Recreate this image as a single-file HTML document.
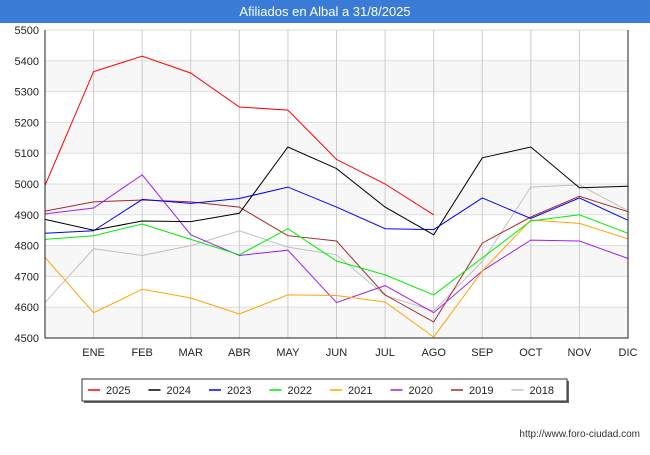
<!DOCTYPE html>
<html><head><meta charset="utf-8"><style>
body{margin:0;width:650px;height:450px;background:#fff;font-family:"Liberation Sans",sans-serif;overflow:hidden}
</style></head><body>
<svg width="650" height="450" xmlns="http://www.w3.org/2000/svg">
<rect x="0" y="0" width="650" height="23" fill="#3a7bd8"/>
<text x="325" y="16" text-anchor="middle" fill="#fff" font-size="13">Afiliados en Albal a 31/8/2025</text>
<g id="grid"></g><g id="series"></g><g id="axes"></g>
<rect x="84" y="381" width="485" height="22" fill="#666"/>
<rect x="82" y="379" width="485" height="22" fill="#fff" stroke="#333"/>
<g id="legend"></g>
<text x="640" y="437" text-anchor="end" font-size="10" fill="#333">http://www.foro-ciudad.com</text>
</svg>
<script>
const months=["","ENE","FEB","MAR","ABR","MAY","JUN","JUL","AGO","SEP","OCT","NOV","DIC"];
const yTicks=[4500,4600,4700,4800,4900,5000,5100,5200,5300,5400,5500];
const names=["2025","2024","2023","2022","2021","2020","2019","2018"];
const colors=["#ff0000","#000000","#0000ff","#00ee00","#ffa500","#a020f0","#a52a2a","#c0c0c0"];
const s2025=[4995,5365,5415,5360,5250,5240,5080,5000,4900];
const s2024=[4885,4850,4880,4878,4905,5120,5050,4925,4835,5085,5120,4988,4993];
const s2023=[4840,4848,4950,4937,4953,4990,4925,4855,4852,4955,4888,4955,4882];
const s2022=[4820,4832,4870,4820,4770,4855,4750,4705,4640,4760,4880,4900,4840];
const s2021=[4762,4582,4658,4630,4578,4640,4638,4617,4503,4718,4883,4872,4822];
const s2020=[4903,4922,5030,4835,4768,4785,4615,4670,4582,4718,4818,4815,4758];
const s2019=[4912,4942,4948,4942,4925,4832,4815,4640,4552,4808,4893,4960,4910];
const s2018=[4615,4790,4768,4800,4848,4795,4770,4638,4588,4748,4990,4997,4913];
const allSeries=[s2025,s2024,s2023,s2022,s2021,s2020,s2019,s2018];
const X0=45,X1=628,Y0=30,Y1=338;
const xs=i=>X0+i*(X1-X0)/12;
const ys=v=>Y1-(v-4500)*(Y1-Y0)/1000;
const NS="http://www.w3.org/2000/svg";
function mk(t,a,p){const e=document.createElementNS(NS,t);for(const k in a)e.setAttribute(k,a[k]);p.appendChild(e);return e;}
const grid=document.getElementById('grid'),axes=document.getElementById('axes'),ser=document.getElementById('series'),leg=document.getElementById('legend');
for(let i=0;i<yTicks.length-1;i++){if(i%2===0){const r=mk('rect',{x:X0,y:ys(yTicks[i+1]),width:X1-X0,height:ys(yTicks[i])-ys(yTicks[i+1]),fill:'#f7f7f7'},grid);

}}
yTicks.forEach(v=>{const l=mk('line',{x1:X0,x2:X1,y1:ys(v),y2:ys(v),stroke:'#ddd'},grid);


const t=mk('text',{x:X0-6,y:ys(v)+4,'text-anchor':'end','font-size':11,fill:'#222'},axes);t.textContent=v;

});
months.forEach((m,i)=>{if(i>0){const l=mk('line',{x1:xs(i),x2:xs(i),y1:Y0,y2:Y1,stroke:'#ccc'},grid);

}
if(m){const t=mk('text',{x:xs(i),y:356,'text-anchor':'middle','font-size':11,fill:'#222'},axes);t.textContent=m;

}});
const ax=mk('path',{d:`M${X0} ${Y0}V${Y1}H${X1}V${Y0}`,fill:'none',stroke:'#222'},axes);


for(let k=allSeries.length-1;k>=0;k--){const d=allSeries[k].map((v,i)=>(i?'L':'M')+xs(i).toFixed(1)+' '+ys(v).toFixed(1)).join('');
const p=mk('path',{d:d,fill:'none',stroke:colors[k],'stroke-width':1},ser);

}
names.forEach((n,k)=>{const x=88+k*60.5;
const l=mk('line',{x1:x,x2:x+12,y1:390,y2:390,stroke:colors[k],'stroke-width':1.5},leg);


const t=mk('text',{x:x+18,y:394,'font-size':11,fill:'#222'},leg);t.textContent=n;

});
</script>
</body></html>
